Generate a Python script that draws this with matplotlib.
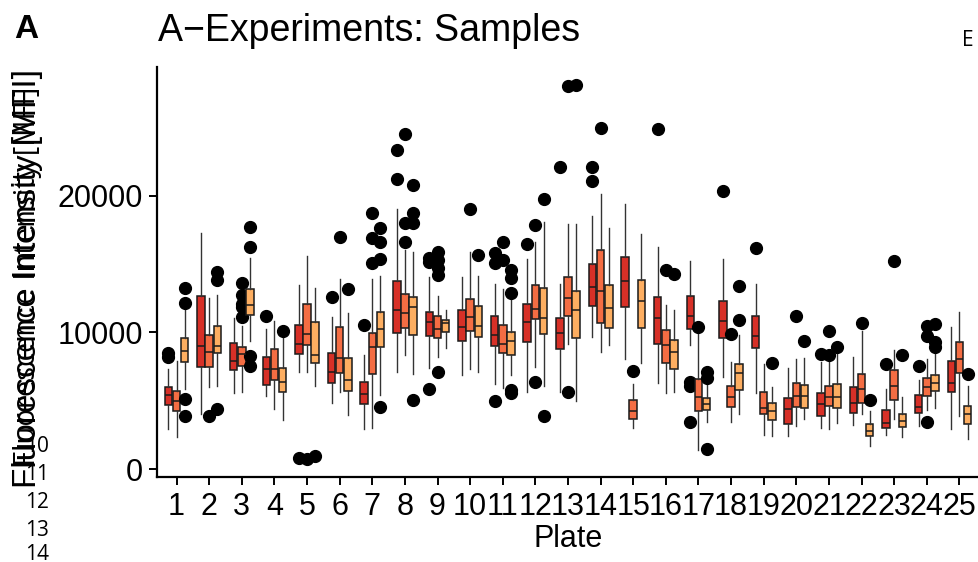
import matplotlib
matplotlib.use("Agg")
import matplotlib.pyplot as plt

plt.rcParams["font.family"] = ["Liberation Sans", "DejaVu Sans"]

plates = list(range(1, 26))
group_colors = ["#D73027", "#F46D43", "#FDAE61"]

# red group (first box of each plate)
red_lo = [2924, 4045, 5605, 5361, 7116, 4825, 2924, 7140, 7384, 6872, 6214, 5629, 5678,
          9699, 8042, 6287, 9090, 6775, 5605, 2461, 2998, 3241, 2510, 3168, 2924]
red_q1 = [4703, 7457, 7262, 6166, 8432, 6287, 4777, 9943, 9748, 9407, 9017, 9285, 8798,
          11941, 11844, 9139, 10235, 9626, 8846, 3290, 3924, 4094, 3046, 4094, 5678]
red_med = [5434, 9041, 7920, 7335, 9163, 7092, 5483, 11649, 10747, 10382, 9845, 10747, 9943,
           13306, 13745, 11040, 11235, 10820, 9724, 4411, 4777, 4850, 3363, 4582, 6287]
red_q3 = [6044, 12672, 9212, 8188, 10552, 8530, 6409, 13793, 11527, 11624, 11210, 12063, 11040,
          14988, 15524, 12575, 12648, 12307, 11186, 5191, 5605, 5995, 4338, 5434, 7920]
red_hi = [7311, 17303, 11088, 10235, 13452, 11161, 8359, 19009, 14037, 14061, 13574, 15353, 13550,
          18521, 19374, 16255, 15256, 15353, 13550, 7433, 7872, 8237, 5849, 6531, 10430]
red_out = [[8481, 8237], [], [], [11234], [804], [12624], [10528], [23371, 21226],
           [15475, 15183, 5849], [], [15841, 15109, 5020], [16450], [22079], [22128, 21104],
           [], [24857], [6409, 6093, 3485], [20349], [16182], [], [8408], [], [7676], [7579], []]

# orange group (middle box)
org_lo = [2388, 6044, 5654, 4387, 7116, 5678, 3046, 8335, 8237, 7335, 5971, 7506, 9139,
          8603, 2998, 5556, 1413, 3485, 2510, 3192, 2924, 4021, 3656, 4338, 3899]
org_q1 = [4265, 7457, 7555, 6531, 9066, 7067, 6945, 10333, 9626, 10114, 8530, 10967, 11210,
          10674, 3704, 7798, 4265, 4533, 4021, 4533, 4655, 4825, 5069, 5386, 7019]
org_med = [4996, 8578, 8432, 7335, 9870, 8164, 8919, 11454, 10284, 11161, 9139, 11698, 12502,
           13038, 4289, 9066, 5264, 5264, 4508, 5361, 5313, 5849, 6093, 6044, 8042]
org_q3 = [5751, 9797, 8919, 8822, 12063, 10430, 9992, 12794, 11235, 12477, 10528, 13477, 14086,
          16011, 5045, 10187, 6580, 6093, 5629, 6287, 6117, 6970, 7262, 6653, 9334]
org_hi = [7920, 12526, 10479, 10845, 15597, 13891, 13891, 16035, 12697, 15865, 13160, 16645, 17912,
          20105, 6214, 12014, 10065, 7823, 7701, 8042, 8530, 10114, 8724, 8091, 11527]
org_out = [[], [3899], [13647, 12746, 12063, 11868, 11113], [], [755], [16962],
           [18716, 16888, 15109], [24516, 17985, 16620], [15914, 15304, 14695, 14208, 7140],
           [19009], [16645, 15304], [17888, 6409], [28026, 5678], [24930], [7214], [14573],
           [10430], [9894], [], [11186], [10114, 8359], [10699], [15256], [10455, 9724, 3436], []]

# light orange group (last box)
lt_lo = [5849, 6093, 9407, 3607, 6093, 3972, 5434, 6970, 8895, 7116, 6897, 6093, 4996,
         9066, 7750, 5629, 3485, 4045, 2461, 3656, 3412, 1706, 2388, 4460, 2193]
lt_q1 = [7872, 8481, 11259, 5678, 7750, 5751, 8919, 9821, 10016, 9651, 8359, 9894, 9577,
         10309, 10333, 7311, 4338, 5800, 3582, 4460, 4460, 2437, 3119, 5751, 3290]
lt_med = [8651, 9041, 11990, 6385, 8335, 6507, 10235, 11893, 10674, 10503, 9407, 11088, 11624,
          11771, 12331, 8554, 4752, 7019, 4265, 5361, 5313, 2827, 3558, 6287, 4021]
lt_q3 = [9577, 10479, 13160, 7384, 10796, 8115, 11478, 12624, 10918, 11941, 10065, 13233, 13062,
         13501, 13867, 9456, 5240, 7701, 4825, 6166, 6263, 3314, 4045, 6921, 4630]
lt_hi = [11771, 12746, 15426, 9577, 13233, 11405, 14135, 15865, 11649, 14135, 12502, 18058, 17936,
         17620, 17181, 11649, 6166, 9821, 6044, 8115, 8481, 4265, 5313, 8724, 6093]
lt_out = [[13257, 12185, 5142, 3899], [14403, 13842, 4387], [17741, 16230, 8286, 7555], [10114],
          [975], [13160], [17620, 16596, 15377, 4533], [20812, 18716, 17985, 5069], [], [15670],
          [14573, 14013, 12867, 5800, 5556], [19764, 3899], [28075], [], [], [14305],
          [7140, 6653, 1462], [13379, 10893], [7750], [9382], [8944], [5069], [8383],
          [10601, 9309, 8919], [6970]]

groups = [
    (red_lo, red_q1, red_med, red_q3, red_hi, red_out),
    (org_lo, org_q1, org_med, org_q3, org_hi, org_out),
    (lt_lo, lt_q1, lt_med, lt_q3, lt_hi, lt_out),
]
offsets = [-0.25, 0.0, 0.25]

W, H = 979, 562
fig = plt.figure(figsize=(W / 100, H / 100), dpi=100)
ax = fig.add_axes([157 / W, 85 / H, 822 / W, 410 / H])

for (lo, q1, med, q3, hi, out), off, col in zip(groups, offsets, group_colors):
    stats = []
    for i in range(len(plates)):
        stats.append({"whislo": lo[i], "q1": q1[i], "med": med[i], "q3": q3[i],
                      "whishi": hi[i], "fliers": out[i]})
    ax.bxp(stats, positions=[p + off for p in plates], widths=0.23,
           showcaps=False, patch_artist=True, manage_ticks=False,
           boxprops=dict(facecolor=col, edgecolor="#1a1a1a", linewidth=1.1),
           medianprops=dict(color="#1a1a1a", linewidth=1.1),
           whiskerprops=dict(color="#333333", linewidth=1.0),
           flierprops=dict(marker="o", markerfacecolor="black", markeredgecolor="black",
                           markersize=8.5))

ax.set_xlim(0.4, 25.6)
ax.set_ylim(-560, 29400)
ax.set_xticks(plates)
ax.set_xticklabels([str(p) for p in plates])
ax.set_yticks([0, 10000, 20000])
ax.tick_params(labelsize=22, length=6, width=1.4, color="black")
ax.tick_params(axis="x", pad=5)
ax.tick_params(axis="y", pad=4)
for s in ["top", "right"]:
    ax.spines[s].set_visible(False)
for s in ["left", "bottom"]:
    ax.spines[s].set_linewidth(1.6)
ax.set_xlabel("Plate", fontsize=22, labelpad=1)

fig.text(14 / W, 1 - 29 / H, "A", fontsize=24, fontweight="bold", va="center", ha="left")
fig.text(158 / W, 1 - 31 / H, "A\u2212Experiments: Samples", fontsize=27, va="center", ha="left")
fig.text(962 / W, 1 - 41 / H, "E", fontsize=15, family="Open Sans", va="center", ha="left")

# leftovers of the neighbouring panel
for k, yy in zip([10, 11, 12, 13, 14], [447, 475, 503, 530, 554]):
    fig.text(37 / W, 1 - yy / H, str(k), fontsize=15, family="Open Sans", va="center", ha="center")

fig.text(28 / W, 1 - 278 / H, "Fluorescence Intensity [MFI]", fontsize=24, rotation=90,
         va="center", ha="center")
fig.text(28 / W, 1 - 276 / H, "Fluorescence Intensity [MFI]", fontsize=21, rotation=90,
         family="Open Sans", va="center", ha="center")

fig.savefig("out.png", dpi=100)
